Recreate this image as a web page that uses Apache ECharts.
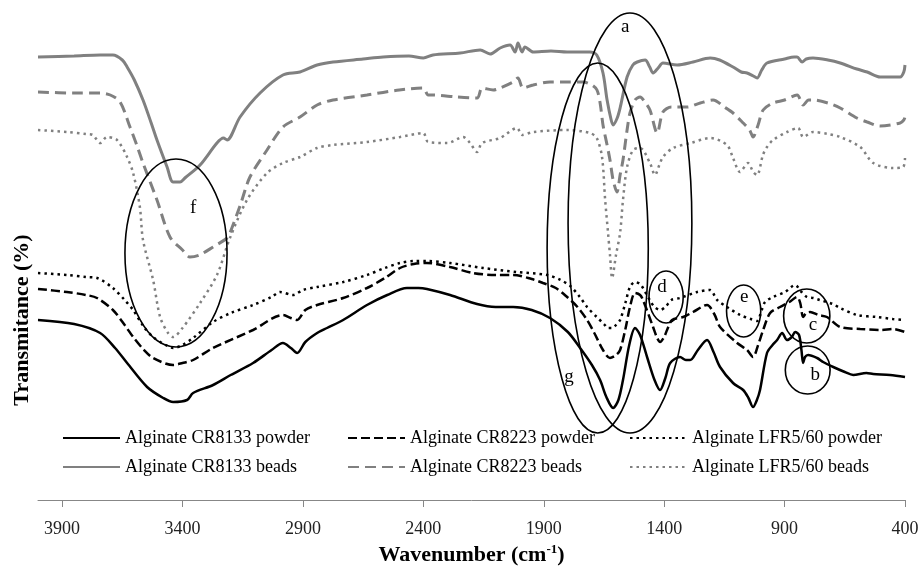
<!DOCTYPE html>
<html><head><meta charset="utf-8">
<script src="https://cdn.jsdelivr.net/npm/echarts@6/dist/echarts.min.js"></script>
<style>html,body{margin:0;padding:0;background:#fff}#c{width:922px;height:566px}</style>
</head><body><div id="c"></div>
<script>
// ---- DATA (wavenumber cm-1, relative transmittance, offset curves) ----
const seriesNames = [
  'Alginate CR8133 powder', 'Alginate CR8223 powder', 'Alginate LFR5/60 powder',
  'Alginate CR8133 beads', 'Alginate CR8223 beads', 'Alginate LFR5/60 beads'
];
const xTicks = [3900, 3400, 2900, 2400, 1900, 1400, 900, 400];

const cr8133Powder = [[4000,180],[3850,176],[3742,167],[3680,152],[3630,137],[3547,113],[3480,102],[3439,98],[3381,100],[3356,107],[3273,115],[3200,125],[3107,137],[3030,150],[2983,157],[2950,152],[2924,147],[2890,158],[2841,167],[2800,172],[2733,180],[2634,195],[2550,205],[2468,212],[2420,212],[2385,211],[2289,205],[2177,196],[2100,193],[2027,193],[1950,190],[1874,182],[1800,168],[1749,152],[1700,135],[1666,120],[1640,103],[1612,92],[1590,100],[1571,120],[1545,155],[1521,172],[1500,165],[1471,143],[1440,120],[1417,110],[1395,122],[1375,137],[1334,143],[1310,140],[1292,140],[1260,150],[1222,160],[1195,148],[1168,133],[1114,117],[1072,110],[1050,102],[1031,93],[1015,100],[1002,110],[973,147],[950,155],[931,160],[910,167],[890,160],[870,163],[856,168],[840,165],[830,150],[823,137],[815,143],[802,145],[765,142],[740,138],[698,133],[650,128],[615,125],[560,127],[532,126],[462,125],[400,123]];

const cr8223Powder = [[4000,211],[3880,208],[3800,205],[3755,202],[3689,190],[3640,175],[3605,163],[3560,150],[3522,142],[3439,135],[3400,137],[3356,140],[3273,152],[3107,170],[2983,185],[2950,182],[2924,180],[2890,190],[2841,195],[2733,202],[2634,212],[2560,222],[2497,232],[2440,236],[2385,237],[2289,233],[2194,227],[2100,225],[2027,225],[1950,221],[1903,217],[1850,212],[1803,203],[1760,193],[1720,180],[1690,167],[1654,150],[1625,142],[1600,145],[1583,150],[1560,172],[1542,193],[1521,207],[1500,205],[1488,200],[1446,173],[1429,162],[1417,158],[1400,163],[1388,170],[1367,180],[1321,183],[1280,188],[1222,195],[1190,185],[1168,173],[1097,157],[1056,150],[1031,143],[1010,155],[989,170],[960,187],[919,193],[880,198],[848,203],[835,197],[823,183],[810,187],[794,188],[760,185],[724,183],[669,173],[586,171],[500,170],[449,171],[400,168]];

const lfrPowder = [[4000,227],[3880,225],[3800,223],[3755,222],[3689,212],[3640,200],[3605,190],[3560,173],[3522,163],[3470,155],[3439,152],[3400,155],[3356,162],[3273,178],[3200,187],[3107,195],[3030,203],[2995,208],[2941,205],[2900,210],[2841,213],[2733,218],[2634,225],[2560,232],[2497,237],[2440,239],[2385,239],[2289,237],[2152,232],[2011,228],[1886,225],[1830,220],[1790,214],[1750,203],[1720,193],[1680,183],[1650,176],[1633,172],[1615,172],[1600,175],[1583,180],[1560,198],[1542,213],[1521,218],[1500,216],[1488,212],[1460,200],[1440,193],[1417,190],[1395,193],[1370,200],[1334,202],[1263,208],[1210,210],[1180,200],[1139,193],[1085,185],[1040,181],[1014,179],[995,190],[981,198],[948,203],[898,208],[856,215],[830,208],[807,203],[780,202],[754,200],[700,196],[669,192],[599,185],[516,183],[450,181],[400,180]];

const cr8133Beads = [[4000,443],[3850,444],[3742,445],[3689,445],[3650,440],[3630,433],[3600,420],[3564,400],[3530,377],[3506,360],[3464,333],[3439,318],[3410,318],[3390,322],[3327,335],[3257,357],[3230,362],[3215,360],[3161,383],[3078,407],[2983,425],[2912,428],[2841,435],[2775,438],[2650,441],[2567,443],[2460,444],[2400,442],[2360,445],[2247,447],[2164,450],[2123,446],[2081,452],[2040,455],[2019,448],[2007,457],[1990,448],[1978,453],[1944,448],[1870,449],[1803,448],[1708,448],[1680,445],[1654,427],[1637,400],[1620,380],[1612,375],[1595,382],[1583,392],[1554,423],[1530,435],[1512,438],[1479,440],[1460,433],[1446,427],[1425,432],[1405,437],[1346,435],[1280,438],[1209,442],[1170,440],[1114,433],[1080,428],[1056,427],[1030,424],[1014,422],[995,430],[973,437],[900,441],[860,443],[848,443],[827,438],[810,441],[782,442],[720,440],[669,437],[600,431],[557,428],[503,423],[420,423],[405,428],[400,435]];

const cr8223Beads = [[4000,408],[3850,407],[3742,407],[3700,405],[3659,398],[3618,373],[3590,355],[3564,337],[3506,300],[3452,263],[3400,250],[3369,243],[3330,245],[3273,253],[3215,262],[3203,267],[3160,295],[3120,323],[3049,350],[2983,373],[2912,383],[2841,395],[2775,400],[2634,405],[2500,410],[2401,412],[2380,405],[2364,405],[2260,403],[2177,402],[2156,412],[2110,410],[2081,412],[2027,418],[2007,422],[1986,412],[1944,415],[1874,418],[1803,418],[1737,418],[1700,415],[1679,410],[1666,397],[1654,375],[1637,355],[1625,340],[1612,320],[1596,308],[1583,325],[1571,340],[1554,370],[1542,387],[1521,400],[1500,403],[1480,398],[1459,390],[1429,367],[1405,388],[1370,393],[1346,393],[1305,393],[1250,397],[1197,400],[1150,393],[1114,387],[1072,377],[1045,370],[1031,363],[1010,375],[989,390],[948,397],[900,400],[848,405],[823,395],[800,400],[782,400],[720,397],[669,392],[600,382],[557,378],[503,374],[420,377],[405,380],[400,383]];

const lfrBeads = [[4000,370],[3880,368],[3800,366],[3772,365],[3742,357],[3713,363],[3672,360],[3630,343],[3605,327],[3577,293],[3564,260],[3522,220],[3493,183],[3460,167],[3439,163],[3400,172],[3327,197],[3257,225],[3203,262],[3132,300],[3049,327],[2983,337],[2912,343],[2841,352],[2775,355],[2634,358],[2497,363],[2401,367],[2380,358],[2300,357],[2235,363],[2206,357],[2177,348],[2156,357],[2081,362],[2011,372],[1990,365],[1944,368],[1803,370],[1708,367],[1680,362],[1658,343],[1645,300],[1633,267],[1625,245],[1616,222],[1600,245],[1583,267],[1571,300],[1554,333],[1529,350],[1500,352],[1459,337],[1438,325],[1420,335],[1405,343],[1363,352],[1290,357],[1209,362],[1139,355],[1114,342],[1085,328],[1052,337],[1030,328],[1014,325],[990,345],[973,353],[948,360],[890,368],[844,372],[823,363],[782,368],[720,366],[669,363],[586,353],[532,337],[449,332],[408,333],[400,342]];

// annotation ellipses: [centre wavenumber, centre value, half-width (cm-1), half-height (value units), label wavenumber, label value]
const annotationLabels = ['a', 'g', 'f', 'd', 'e', 'c', 'b'];
const annotations = [
  [1542, 277, 257, 210, 1562, 473],
  [1676, 252, 210, 185, 1795, 123],
  [3427, 247, 212, 94, 3356, 292],
  [1392, 203, 71, 26, 1409, 213],
  [1070, 189, 71, 26, 1068, 203],
  [808, 184, 96, 27, 782, 175],
  [804, 130, 93, 24, 773, 125]
];

// ---- CHART ----
const serif = '"Liberation Serif","Times New Roman",serif';
const chart = echarts.init(document.getElementById('c'));
function lineSeries(name, data, color, width, type) {
  return {
    name: name, type: 'line', data: data, showSymbol: false, symbol: 'none',
    smooth: 0.3, animation: false, z: 2,
    lineStyle: { color: color, width: width, type: type, cap: 'butt' },
    itemStyle: { color: color }
  };
}
const legendBase = {
  orient: 'vertical', top: 429, itemWidth: 57, itemHeight: 14, itemGap: 11,
  padding: 0, selectedMode: false,
  itemStyle: { opacity: 0 },
  textStyle: { fontFamily: serif, fontSize: 18, color: '#000' }
};
chart.setOption({
  animation: false,
  grid: { left: 38, right: 17, top: 0, bottom: 66, containLabel: false, outerBoundsMode: 'none' },
  xAxis: {
    type: 'value', inverse: true, min: 400, max: 4000, interval: 500,
    axisLine: { lineStyle: { color: '#878787', width: 1 } },
    axisTick: { length: 7, lineStyle: { color: '#878787' }, customValues: xTicks },
    axisLabel: { customValues: xTicks, margin: 20, fontFamily: serif, fontSize: 18, color: '#222',
      formatter: function (v) { return String(v); } },
    splitLine: { show: false },
    name: '{b|Wavenumber (cm}{s|-1}{b|)}',
    nameLocation: 'middle', nameGap: 41,
    nameTextStyle: {
      rich: {
        b: { fontFamily: serif, fontSize: 22, fontWeight: 'bold', color: '#000', lineHeight: 24 },
        s: { fontFamily: serif, fontSize: 13, fontWeight: 'bold', color: '#000', verticalAlign: 'top', lineHeight: 24 }
      }
    }
  },
  yAxis: {
    type: 'value', min: 0, max: 500,
    axisLine: { show: false }, axisTick: { show: false }, axisLabel: { show: false }, splitLine: { show: false }
  },
  legend: [
    Object.assign({}, legendBase, { left: 62, data: [seriesNames[0], seriesNames[3]] }),
    Object.assign({}, legendBase, { left: 347, data: [seriesNames[1], seriesNames[4]] }),
    Object.assign({}, legendBase, { left: 629, data: [seriesNames[2], seriesNames[5]] })
  ],
  graphic: [{
    type: 'text', x: 22, y: 320, rotation: Math.PI / 2,
    style: { text: 'Transmitance (%)', font: 'bold 22px ' + serif, fill: '#000', textAlign: 'center', textVerticalAlign: 'middle' }
  }],
  series: [
    lineSeries(seriesNames[0], cr8133Powder, '#000000', 2.5, 'solid'),
    lineSeries(seriesNames[1], cr8223Powder, '#000000', 2.5, [9, 4]),
    lineSeries(seriesNames[2], lfrPowder, '#000000', 2.5, [2.5, 4]),
    lineSeries(seriesNames[3], cr8133Beads, '#808080', 3, 'solid'),
    lineSeries(seriesNames[4], cr8223Beads, '#808080', 3, [11, 6]),
    lineSeries(seriesNames[5], lfrBeads, '#808080', 2.5, [2.5, 4]),
    {
      type: 'custom', name: 'annotations', silent: true, clip: false, z: 5,
      data: annotations,
      renderItem: function (params, api) {
        const c = api.coord([api.value(0), api.value(1)]);
        const s = api.size([api.value(2), api.value(3)]);
        const l = api.coord([api.value(4), api.value(5)]);
        return {
          type: 'group',
          children: [
            { type: 'ellipse', shape: { cx: c[0], cy: c[1], rx: Math.abs(s[0]), ry: Math.abs(s[1]) },
              style: { fill: null, stroke: '#000', lineWidth: 1.6 } },
            { type: 'text', x: l[0], y: l[1],
              style: { text: annotationLabels[params.dataIndex], font: '19px ' + serif, fill: '#000', textAlign: 'center', textVerticalAlign: 'middle' } }
          ]
        };
      }
    }
  ]
});
</script>
</body></html>
